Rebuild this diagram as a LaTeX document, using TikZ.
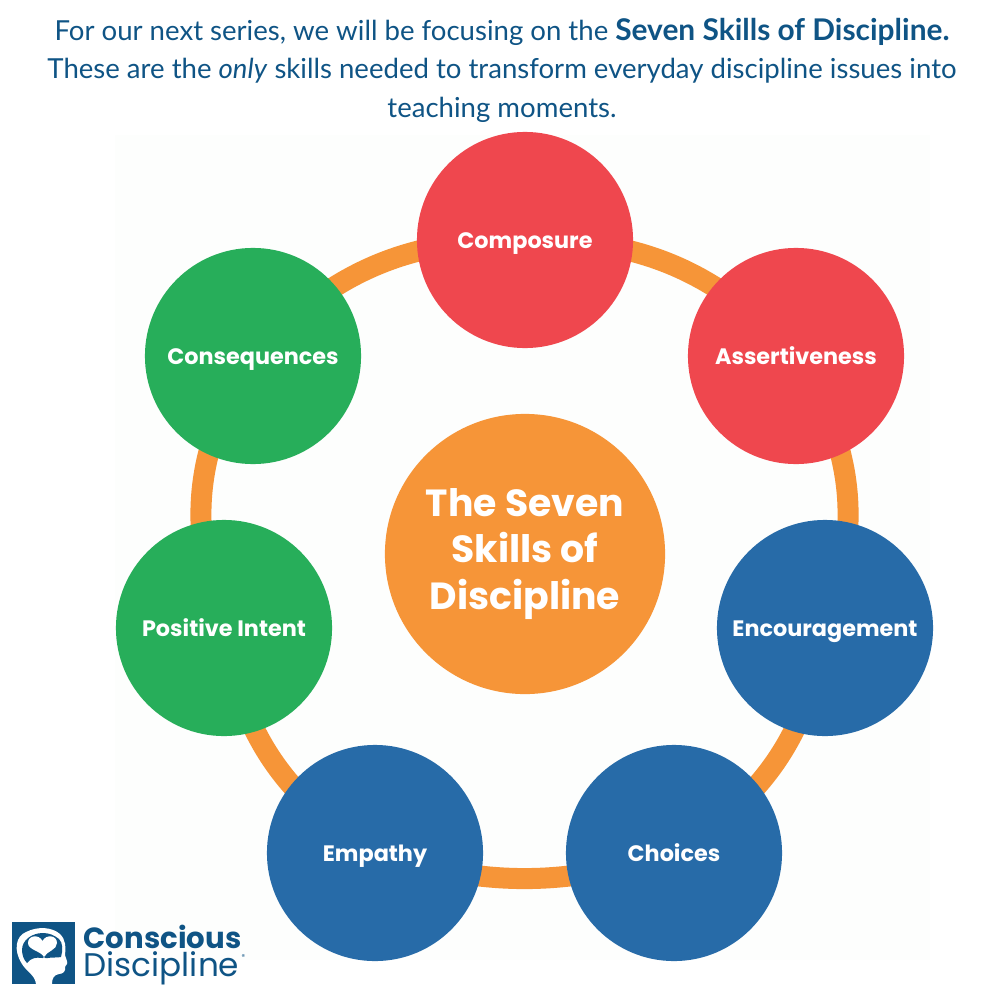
\documentclass[tikz,border=0pt]{standalone}
\usepackage{fontspec}
\setmainfont{Poppins}
\newfontfamily\titlefont{Lato}
\usetikzlibrary{positioning,backgrounds}
\definecolor{skillred}{HTML}{EF474E}
\definecolor{skillblue}{HTML}{276BA8}
\definecolor{skillgreen}{HTML}{27AE5A}
\definecolor{skillorange}{HTML}{F69538}
\definecolor{logoblue}{HTML}{0F5485}
\definecolor{panelgrey}{HTML}{FDFEFD}
\newcommand{\titlebold}[1]{{\fontsize{8.5}{10}\selectfont\bfseries #1}}
\tikzset{
  skill/.style={circle, fill=#1, minimum size=2.16cm, inner sep=0, text=white, text height=1.6mm, text depth=0, font=\fontsize{6.35}{7}\selectfont\bfseries},
  ringline/.style={draw=skillorange, line width=0.21cm},
  titleline/.style={anchor=base, text=logoblue, font=\titlefont\fontsize{7.84}{10}\selectfont, inner sep=0}
}
\begin{document}
\begin{tikzpicture}[x=0.01cm, y=-0.01cm]
\useasboundingbox (0,0) rectangle (1000,1000);

% Title
\node (line1) [titleline] at (502,40) {For our next series, we will be focusing on the \titlebold{Seven Skills of Discipline.}};
\node (line2) [titleline] at (502,78) {These are the \textit{only} skills needed to transform everyday discipline issues into};
\node (line3) [titleline] at (502,117) {teaching moments.};

% Skills
\node (hub) [circle, fill=skillorange, minimum size=2.8cm, inner sep=0, text=white, align=center, font=\fontsize{10.75}{13.1}\selectfont\bfseries] at (525,554) {The Seven\\Skills of\\Discipline};
\node (composure) [skill=skillred] at (525,240) {Composure};
\node (assertive) [skill=skillred] at (796,356) {Assertiveness};
\node (encourage) [skill=skillblue] at (825,628) {Encouragement};
\node (choices) [skill=skillblue] at (674,853) {Choices};
\node (empathy) [skill=skillblue] at (375,853) {Empathy};
\node (intent) [skill=skillgreen] at (224,628) {Positive Intent};
\node (consequences) [skill=skillgreen] at (253,356) {Consequences};

% Ring behind the circles
\begin{scope}[on background layer]
\fill[panelgrey] (115,135) rectangle (930,960);
\draw[ringline] (composure.center) to[bend left=24] (assertive.center);
\draw[ringline] (assertive.center) to[bend left=27] (encourage.center);
\draw[ringline] (encourage.center) to[bend left=25] (choices.center);
\draw[ringline] (choices.center) to[bend left=17] (empathy.center);
\draw[ringline] (empathy.center) to[bend left=25] (intent.center);
\draw[ringline] (intent.center) to[bend left=27] (consequences.center);
\draw[ringline] (consequences.center) to[bend left=24] (composure.center);
\end{scope}

% Logo
\fill[logoblue] (12,922) rectangle (75,984);
\fill[white] (36,984) .. controls (35,975) and (27,972) .. (22,964) .. controls (13,950) and (16,936) .. (26,932) .. controls (38,926) and (52,927) .. (60,934) .. controls (66,940) and (66,948) .. (65,955) .. controls (66,959) and (68,962) .. (67,964) .. controls (66,966) and (65,966) .. (65,967) .. controls (66,971) and (63,974) .. (59,974) .. controls (54,975) and (52,978) .. (52,984) -- cycle;
\fill[logoblue] (43,933) .. controls (32,933) and (22,940) .. (22,950) .. controls (22,955) and (24,960) .. (27,963) .. controls (31,958) and (36,957) .. (42,958) -- (48,958) .. controls (52,957) and (56,958) .. (61,957) .. controls (63,950) and (63,943) .. (59,939) .. controls (54,935) and (49,933) .. (43,933) -- cycle;
\fill[white] (44,957) .. controls (41,951) and (28,950) .. (28,943) .. controls (28,935) and (39,934) .. (42.5,941) .. controls (46,934) and (57,935) .. (57,943) .. controls (57,950) and (47,951) .. (44,957) -- (48,961) -- (40,961) -- cycle;
\node (logotop) [anchor=base west, inner sep=0, text=logoblue, text depth=0, font=\fontsize{8.3}{9}\selectfont\bfseries] at (83,948) {Conscious};
\node (logobottom) [anchor=base west, inner sep=0, text=logoblue, font=\fontsize{9.3}{10}\selectfont] at (83,976) {Discipline};
\node (logomark) [anchor=west, inner sep=0, text=logoblue, font=\fontsize{2}{2}\selectfont] at (241,957) {®};
\end{tikzpicture}
\end{document}
